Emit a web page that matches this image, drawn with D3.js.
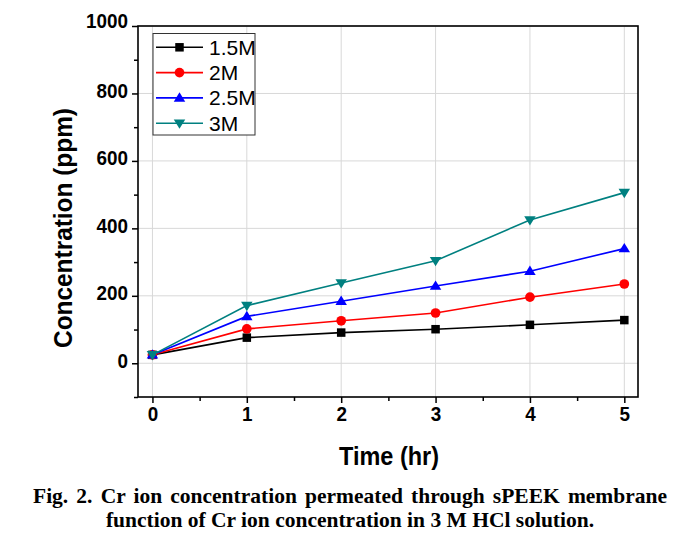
<!DOCTYPE html>
<html><head><meta charset="utf-8">
<script src="https://cdn.jsdelivr.net/npm/d3@7"></script>
<style>body{margin:0;background:#fff}svg{display:block}</style>
</head><body>
<svg id="c" width="694" height="541"></svg>
<script>
const times = [0, 1, 2, 3, 4, 5];
const seriesNames = ["1.5M", "2M", "2.5M", "3M"];
const s15 = [25, 76, 91, 101, 114, 128];
const s2 = [25, 102, 126, 149, 196, 235];
const s25 = [25, 139, 184, 229, 273, 340];
const s3 = [25, 171, 238, 304, 425, 506];
const xTicks = [0, 1, 2, 3, 4, 5];
const yTicks = [0, 200, 400, 600, 800, 1000];
const xLabel = "Time (hr)";
const yLabel = "Concentration (ppm)";
const caption1 = "Fig. 2. Cr ion concentration permeated through sPEEK membrane";
const caption2 = "function of Cr ion concentration in 3 M HCl solution.";

const colors = ["#000000", "#ff0000", "#0000ff", "#008080"];
const symbols = ["square", "circle", "up", "down"];
const allSeries = [s15, s2, s25, s3];

const svg = d3.select("#c");
const L = 138, R = 638, T = 26, B = 397;
const x = d3.scaleLinear().domain([-0.153, 5.145]).range([L, R]);
const y = d3.scaleLinear().domain([-100, 1000]).range([B, T]);

// grid
const g = svg.append("g");
g.selectAll(".vg").data(xTicks).join("line")
  .attr("x1", d => x(d)).attr("x2", d => x(d)).attr("y1", T).attr("y2", B)
  .attr("stroke", "#d8d8d8").attr("stroke-width", 1);
g.selectAll(".hg").data(yTicks).join("line")
  .attr("y1", d => y(d)).attr("y2", d => y(d)).attr("x1", L).attr("x2", R)
  .attr("stroke", "#d8d8d8").attr("stroke-width", 1);

// axes
const fontSans = "Liberation Sans, Arial, sans-serif";
const xAxis = d3.axisBottom(x).tickValues(xTicks).tickSize(6).tickPadding(4).tickFormat(d3.format("d"));
const xMinor = d3.axisBottom(x).tickValues(d3.range(0.5, 5, 1)).tickSize(4).tickFormat("");
const yAxis = d3.axisLeft(y).tickValues(yTicks).tickSize(6).tickPadding(4).tickFormat(d3.format("d"));
const yMinor = d3.axisLeft(y).tickValues(d3.range(-100, 1000, 200)).tickSize(4).tickFormat("");

function styleAxis(sel) {
  sel.select(".domain").remove();
  sel.selectAll("line").attr("stroke", "#000").attr("stroke-width", 1.5);
  sel.selectAll("text").attr("font-family", fontSans).attr("font-weight", "bold")
    .attr("font-size", 20).attr("fill", "#000")
    .attr("textLength", function () { return this.textContent.length * 10.5; })
    .attr("lengthAdjust", "spacingAndGlyphs");
}
svg.append("g").attr("transform", `translate(0,${B})`).call(xAxis).call(styleAxis);
svg.append("g").attr("transform", `translate(0,${B})`).call(xMinor).call(styleAxis);
const ya = svg.append("g").attr("transform", `translate(${L},0)`).call(yAxis).call(styleAxis);
ya.selectAll("text").attr("dy", d => d === 1000 ? "0.05em" : "0.2em");
svg.append("g").attr("transform", `translate(${L},0)`).call(yMinor).call(styleAxis);

// frame
svg.append("rect").attr("x", L).attr("y", T).attr("width", R - L).attr("height", B - T)
  .attr("fill", "none").attr("stroke", "#000").attr("stroke-width", 1.6);

// lines & markers
const line = d3.line().x((d, i) => x(times[i])).y(d => y(d));
function drawMarker(sel, type, color, size) {
  if (type === "square") {
    sel.append("rect").attr("x", -size/2).attr("y", -size/2).attr("width", size).attr("height", size).attr("fill", color);
  } else if (type === "circle") {
    sel.append("circle").attr("r", size/2 + 0.6).attr("fill", color);
  } else if (type === "up") {
    const h = size * 1.1, w = size * 1.35;
    sel.append("path").attr("d", `M0,${-h*0.6}L${w/2},${h*0.4}L${-w/2},${h*0.4}Z`).attr("fill", color);
  } else {
    const h = size * 1.1, w = size * 1.35;
    sel.append("path").attr("d", `M0,${h*0.6}L${w/2},${-h*0.4}L${-w/2},${-h*0.4}Z`).attr("fill", color);
  }
}
allSeries.forEach((s, k) => {
  svg.append("path").datum(s).attr("d", line).attr("fill", "none")
    .attr("stroke", colors[k]).attr("stroke-width", 1.6);
});
allSeries.forEach((s, k) => {
  s.forEach((v, i) => {
    const m = svg.append("g").attr("transform", `translate(${x(times[i])},${y(v)})`);
    drawMarker(m, symbols[k], colors[k], 8.5);
  });
});

// legend
const lg = svg.append("g");
lg.append("rect").attr("x", 153).attr("y", 33.5).attr("width", 102).attr("height", 101.5)
  .attr("fill", "#fff").attr("stroke", "#333").attr("stroke-width", 1);
seriesNames.forEach((n, k) => {
  const yy = 47.3 + k * 25.3;
  lg.append("line").attr("x1", 156).attr("x2", 203).attr("y1", yy).attr("y2", yy)
    .attr("stroke", colors[k]).attr("stroke-width", 1.6);
  const m = lg.append("g").attr("transform", `translate(179.5,${yy})`);
  drawMarker(m, symbols[k], colors[k], 8.5);
  lg.append("text").attr("x", 209).attr("y", yy + 7.5).text(n)
    .attr("font-family", fontSans).attr("font-size", 21).attr("fill", "#000");
});

// axis titles
svg.append("text").attr("x", 389).attr("y", 465).attr("text-anchor", "middle")
  .attr("font-family", fontSans).attr("font-weight", "bold").attr("font-size", 26)
  .attr("textLength", 100).attr("lengthAdjust", "spacingAndGlyphs").text(xLabel);
svg.append("text").attr("transform", "translate(72,228) rotate(-90)").attr("text-anchor", "middle")
  .attr("font-family", fontSans).attr("font-weight", "bold").attr("font-size", 26)
  .attr("textLength", 240).attr("lengthAdjust", "spacingAndGlyphs").text(yLabel);

// caption
const fontSerif = "Liberation Serif, Times New Roman, serif";
const c1 = svg.append("text").attr("x", 33).attr("y", 503).attr("font-family", fontSerif)
  .attr("font-weight", "bold").attr("font-size", 21.5).text(caption1);
const nat = c1.node().getComputedTextLength();
const gaps = caption1.split(" ").length - 1;
c1.attr("word-spacing", (634 - nat) / gaps);
svg.append("text").attr("x", 350).attr("y", 527).attr("text-anchor", "middle").attr("font-family", fontSerif)
  .attr("font-weight", "bold").attr("font-size", 21.5).text(caption2);
</script>
</body></html>
